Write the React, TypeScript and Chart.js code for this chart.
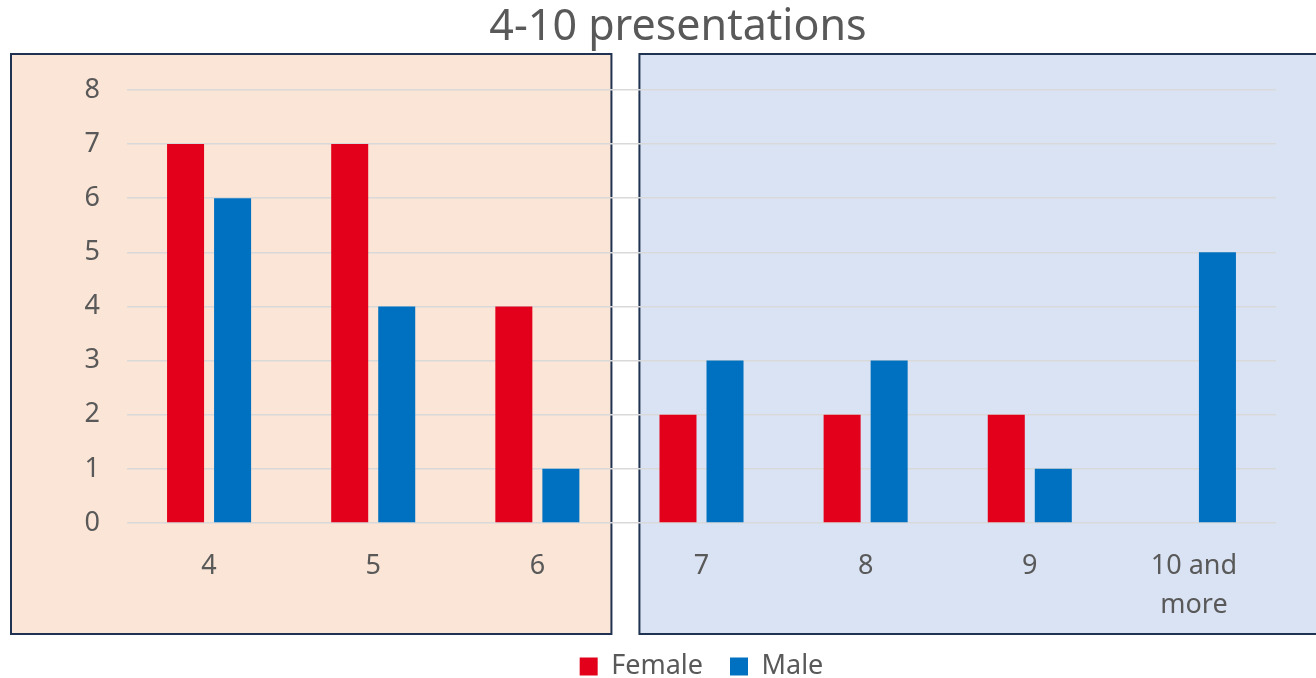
import React, { useEffect, useRef } from "react";
import { Chart, registerables } from "chart.js";

Chart.register(...registerables);

const categories: (string | string[])[] = ["4", "5", "6", "7", "8", "9", ["10 and", "more"]];
const femaleValues = [7, 7, 4, 2, 2, 2, 0];
const maleValues = [6, 4, 1, 3, 3, 1, 5];
const titleText = "4-10 presentations";
const seriesNames = ["Female", "Male"];

const FONT = "'Noto Sans', 'Open Sans', sans-serif";
const TEXT = "#595959";

const boxesPlugin = {
  id: "bgBoxes",
  beforeDraw(chart: any) {
    const { ctx } = chart;
    const x = chart.scales.x;
    const boundary = (x.getPixelForValue(2) + x.getPixelForValue(3)) / 2;
    const top = 54;
    const bottom = 634;
    ctx.save();
    ctx.lineWidth = 2;
    ctx.strokeStyle = "#1F3251";
    const lx = 11;
    const lr = boundary - 8;
    ctx.fillStyle = "#FBE5D6";
    ctx.fillRect(lx, top, lr - lx, bottom - top);
    ctx.strokeRect(lx, top, lr - lx, bottom - top);
    const rx = boundary + 20;
    const rr = chart.width + 4;
    ctx.fillStyle = "#DAE3F3";
    ctx.fillRect(rx, top, rr - rx, bottom - top);
    ctx.strokeRect(rx, top, rr - rx, bottom - top);
    ctx.restore();
  },
};

export default function App() {
  const ref = useRef<HTMLCanvasElement>(null);
  useEffect(() => {
    if (!ref.current) return;
    const chart = new Chart(ref.current, {
      type: "bar",
      data: {
        labels: categories,
        datasets: [
          {
            label: seriesNames[0],
            data: femaleValues,
            backgroundColor: "#E2001A",
            categoryPercentage: 0.573,
            barPercentage: 0.787,
          },
          {
            label: seriesNames[1],
            data: maleValues,
            backgroundColor: "#0070C0",
            categoryPercentage: 0.573,
            barPercentage: 0.787,
          },
        ],
      },
      options: {
        responsive: false,
        animation: false,
        layout: { padding: { left: 80, right: 40, top: 0, bottom: -12 } },
        plugins: {
          title: {
            display: true,
            text: titleText,
            color: TEXT,
            font: { family: FONT, size: 43, weight: "normal" as any, lineHeight: 1.16 },
            padding: { top: 3, bottom: 37 },
          },
          legend: {
            display: true,
            position: "bottom",
            fullSize: false,
            labels: {
              color: TEXT,
              font: { family: FONT, size: 27, lineHeight: 1.2 },
              boxWidth: 18,
              boxHeight: 18,
              padding: 27,
            },
          },
          tooltip: { enabled: false },
        },
        scales: {
          x: {
            grid: { display: false },
            border: { display: false },
            ticks: {
              color: TEXT,
              font: { family: FONT, size: 27, lineHeight: 1.45 },
              padding: 16,
              maxRotation: 0,
            },
            afterFit(scale: any) {
              scale.height = 103;
            },
          },
          y: {
            min: 0,
            max: 8,
            grid: { color: "#D9D9D9", lineWidth: 1.5, drawTicks: false },
            border: { display: false },
            ticks: {
              stepSize: 1,
              color: TEXT,
              font: { family: FONT, size: 27 },
              padding: 27,
            },
            afterFit(scale: any) {
              scale.width = 47;
            },
          },
        },
      },
      plugins: [boxesPlugin],
    });
    return () => chart.destroy();
  }, []);
  return (
    <canvas
      ref={ref}
      width={1316}
      height={678}
      style={{ position: "absolute", left: 0, top: 0, display: "block" }}
    />
  );
}
